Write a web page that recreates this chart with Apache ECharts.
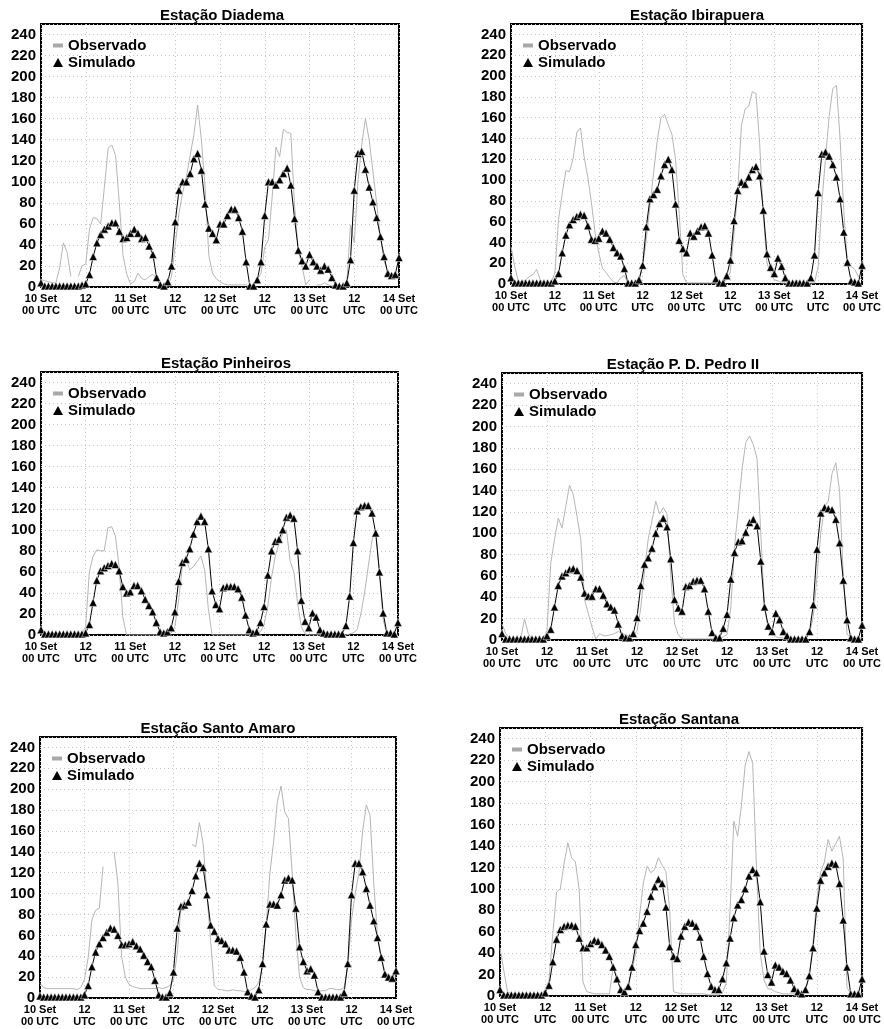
<!DOCTYPE html>
<html>
<head>
<meta charset="utf-8">
<title>Estações</title>
<script src="https://cdn.jsdelivr.net/npm/echarts@6.0.0/dist/echarts.min.js"></script>
<style>
  html, body { margin: 0; padding: 0; background: #fff; }
  #chart { width: 884px; height: 1029px; }
</style>
</head>
<body>
<div id="chart"></div>
<script>
// hourly values, 10 Set 00 UTC .. 14 Set 00 UTC (97 points each)
const stations = ['Estação Diadema', 'Estação Ibirapuera', 'Estação Pinheiros',
  'Estação P. D. Pedro II', 'Estação Santo Amaro', 'Estação Santana']

const xTickLabels = ['10 Set\n00 UTC', '12\nUTC', '11 Set\n00 UTC', '12\nUTC', '12 Set\n00 UTC',
  '12\nUTC', '13 Set\n00 UTC', '12\nUTC', '14 Set\n00 UTC']

const simDiadema = [
  4, 1, 1, 1, 1, 1, 1, 1, 1, 1, 1, 2,
  3, 12, 29, 42, 50, 55, 58, 61, 61, 53, 46, 47,
  51, 55, 51, 46, 47, 39, 31, 9, 2, 1, 5, 20,
  62, 92, 100, 100, 108, 122, 127, 111, 79, 56, 51, 45,
  60, 60, 68, 74, 74, 66, 53, 24, 1, 1, 7, 24,
  68, 100, 100, 97, 102, 108, 113, 97, 65, 35, 25, 20,
  31, 24, 20, 16, 20, 17, 9, 2, 1, 1, 4, 26,
  92, 127, 129, 112, 95, 81, 66, 48, 29, 13, 11, 12,
  28]
const obsDiadema = [
  7, 6, 5, 4, 4, 18, 42, 33, 10, null, 10, 20,
  22, 55, 66, 65, 60, 95, 132, 135, 125, 80, 30, 12,
  3, 5, 13, 8, 7, 10, 12, 8, 3, 1, 1, 10,
  40, 70, 90, 105, 125, 145, 173, 140, 95, 30, 13, 8,
  5, 3, 2, 2, 2, 2, 2, 2, 1, 1, 7, 13,
  38, 45, 86, 133, 124, 150, 147, 146, 77, 35, 20, 2,
  7, null, 2, 2, 4, 2, 1, 1, 1, 1, 4, 59,
  42, 100, 135, 160, 140, 110, 80, 48, 25, 14, 12, 11,
  13]

const simIbirapuera = [
  6, 1, 1, 1, 1, 1, 1, 1, 1, 1, 1, 1,
  3, 10, 30, 47, 57, 62, 65, 67, 66, 56, 43, 42,
  44, 51, 49, 43, 35, 30, 27, 15, 1, 1, 1, 4,
  18, 55, 82, 86, 91, 104, 115, 120, 110, 77, 42, 34,
  30, 49, 46, 51, 55, 56, 49, 28, 5, 1, 1, 8,
  23, 61, 90, 98, 96, 103, 110, 113, 104, 71, 29, 16,
  10, 25, 17, 6, 1, 1, 1, 1, 1, 1, 6, 28,
  88, 125, 127, 123, 115, 103, 82, 50, 21, 3, 2, 1,
  18]
const obsIbirapuera = [
  36, 17, 3, 2, 4, 7, 9, 14, 4, 1, 1, 1,
  11, 62, 87, 109, 108, 121, 146, 150, 122, 103, 78, 49,
  30, 15, 11, 6, 2, 1, 6, 8, 1, 1, 1, 3,
  17, 43, 75, 107, 138, 160, 163, 153, 144, 120, 68, 9,
  1, 1, 1, 1, 1, 1, 1, 1, 1, 1, 1, 4,
  12, 49, 89, 152, 168, 171, 185, 183, 135, 65, 20, 11,
  4, 3, 1, 1, 1, 1, 4, 2, 1, 1, 1, 1,
  17, 78, 120, 161, 188, 191, 139, 71, 20, 17, 14, 7,
  4]

const simPinheiros = [
  5, 1, 1, 1, 1, 1, 1, 1, 1, 1, 1, 1,
  2, 10, 31, 52, 61, 64, 66, 68, 67, 61, 46, 40,
  41, 47, 47, 42, 34, 28, 22, 12, 3, 2, 3, 7,
  22, 51, 69, 72, 82, 96, 108, 113, 108, 82, 42, 29,
  25, 45, 46, 46, 46, 44, 36, 19, 5, 2, 3, 12,
  27, 57, 80, 89, 91, 100, 112, 114, 111, 80, 33, 13,
  7, 21, 17, 5, 2, 1, 1, 1, 1, 1, 9, 37,
  88, 118, 122, 123, 123, 116, 97, 60, 21, 2, 2, 1,
  12]
const obsPinheiros = [
  1, 1, 1, 1, 1, 1, 1, 1, 1, 1, 1, 1,
  8, 60, 75, 81, 80, 80, 102, 103, 94, 65, 17, 0,
  0, 0, 0, 0, 0, 0, 0, 0, 0, 0, 0, 2,
  8, 33, 65, 72, 62, 65, 70, 75, 62, 25, 0, 0,
  0, 0, 0, 0, 0, 0, 0, 0, 0, 0, 1, 3,
  10, 28, 55, 75, 87, 96, 100, 70, 60, 30, 8, 1,
  0, 0, 0, 0, 0, 0, 0, 0, 0, 0, 0, 1,
  2, 5, 20, 40, 65, 90, 100, 60, 15, 0, 0, 0,
  0]

const simPedro = [
  6, 1, 1, 1, 1, 1, 1, 1, 1, 1, 1, 1,
  4, 10, 31, 51, 60, 63, 66, 67, 65, 59, 44, 41,
  41, 48, 48, 42, 34, 31, 28, 15, 4, 2, 2, 6,
  21, 51, 71, 77, 86, 100, 109, 114, 106, 76, 38, 30,
  27, 50, 51, 55, 56, 56, 48, 27, 7, 2, 2, 11,
  24, 57, 82, 92, 93, 101, 110, 113, 107, 74, 31, 13,
  8, 25, 19, 8, 4, 1, 1, 1, 1, 1, 8, 33,
  85, 119, 124, 123, 122, 113, 91, 56, 19, 2, 1, 1,
  14]
const obsPedro = [
  15, 6, 2, 1, 1, 1, 20, 6, 1, 1, 1, 1,
  9, 72, 94, 114, 105, 125, 145, 136, 116, 94, 38, 25,
  12, 1, 6, 4, 4, 5, 6, 8, 6, 5, 3, 5,
  8, 30, 65, 95, 112, 130, 118, 124, 118, 60, 15, 5,
  1, 1, 1, 1, 1, 1, 1, 1, 1, 1, 1, 3,
  5, 30, 88, 122, 160, 185, 191, 183, 170, 100, 30, 10,
  5, 3, 2, 2, 2, 2, 2, 2, 2, 2, 6, 22,
  60, 100, 125, 130, 156, 166, 140, 60, 5, 3, 2, 2,
  2]

const simSantoAmaro = [
  2, 1, 1, 1, 1, 1, 1, 1, 1, 1, 1, 1,
  3, 12, 30, 44, 52, 58, 63, 67, 66, 60, 51, 51,
  52, 54, 50, 47, 41, 35, 30, 17, 3, 1, 1, 5,
  25, 67, 88, 89, 92, 103, 117, 129, 125, 99, 70, 64,
  57, 55, 52, 46, 46, 45, 39, 25, 6, 2, 1, 8,
  33, 71, 90, 90, 89, 99, 113, 115, 113, 86, 49, 35,
  26, 28, 22, 6, 1, 1, 1, 1, 1, 1, 5, 33,
  99, 129, 129, 121, 105, 89, 74, 58, 39, 23, 20, 19,
  26]
const obsSantoAmaro = [
  14, 10, 9, 9, 9, 9, 9, 9, 9, 9, 8, 10,
  18, 39, 75, 84, 86, 126, null, null, 140, 110, 40, 20,
  13, 11, 10, 9, 9, 9, 9, 9, 10, 9, 10, 12,
  17, 42, 87, 94, null, 147, 145, 168, 148, 100, 55, 12,
  8, 8, 7, 7, 8, 7, 7, 6, 6, 8, 10, 15,
  30, 70, 120, 150, 188, 203, 178, 172, 120, 60, 20, 10,
  8, 8, 7, 6, 7, 7, 9, 9, 8, 8, 10, 30,
  75, 100, 120, 160, 185, 175, 110, 60, 40, 25, 22, 20,
  20]

const simSantana = [
  6, 1, 1, 1, 1, 1, 1, 1, 1, 1, 1, 1,
  3, 10, 32, 53, 62, 65, 66, 66, 65, 54, 45, 45,
  49, 52, 51, 48, 43, 37, 27, 16, 6, 4, 9, 27,
  48, 61, 68, 79, 93, 102, 109, 105, 83, 46, 37, 35,
  56, 65, 69, 68, 65, 55, 37, 21, 9, 6, 6, 16,
  31, 54, 73, 85, 90, 100, 112, 118, 115, 88, 42, 20,
  13, 29, 27, 23, 21, 15, 7, 4, 2, 6, 19, 45,
  82, 108, 115, 121, 124, 123, 105, 71, 27, 2, 2, 2,
  16]
const obsSantana = [
  45, 24, 4, 2, 2, 2, 2, 2, 2, 2, 2, 2,
  6, 15, 58, 97, 100, 124, 143, 129, 125, 99, 13, 4,
  3, 2, 2, 2, 2, 2, 27, 18, 6, 2, 9, 24,
  40, 75, 105, 121, 115, 118, 129, 122, 116, 80, 4, 3,
  2, 2, 2, 2, 2, 2, 2, 1, 1, 1, 1, 3,
  12, 80, 163, 149, 177, 215, 228, 217, 120, 40, 15, 7,
  6, 4, 3, 2, 2, 2, 2, 2, 2, 6, 18, 50,
  90, 115, 125, 146, 135, 142, 149, 128, 8, 2, 2, 2,
  2]

const simulado = [simDiadema, simIbirapuera, simPinheiros, simPedro, simSantoAmaro, simSantana]
const observado = [obsDiadema, obsIbirapuera, obsPinheiros, obsPedro, obsSantoAmaro, obsSantana]

// plot boxes (px) and title centres
const panels = [
  { left: 41, top: 24, width: 358, height: 263, titleX: 222 },
  { left: 511, top: 24, width: 354, height: 260, titleX: 697 },
  { left: 41, top: 372, width: 357, height: 263, titleX: 226 },
  { left: 502, top: 373, width: 363, height: 267, titleX: 683 },
  { left: 40, top: 737, width: 356, height: 261, titleX: 218 },
  { left: 500, top: 728, width: 365, height: 268, titleX: 679 }
]

const font = '"Liberation Sans", Arial, sans-serif'
const boldText = { fontFamily: font, fontWeight: 'bold', color: '#000' }
const gridLine = { show: true, lineStyle: { color: '#c4c4c4', type: [1, 3], width: 1 } }

const chart = echarts.init(document.getElementById('chart'))
const ctx = document.createElement('canvas').getContext('2d')
ctx.font = 'bold 15px "Liberation Sans"'

const option = {
  animation: false,
  backgroundColor: '#fff',
  title: [], legend: [], grid: [], xAxis: [], yAxis: [], series: []
}

panels.forEach((p, i) => {
  const tw = ctx.measureText(stations[i]).width
  option.title.push({
    text: stations[i],
    left: p.titleX - tw / 2,
    top: p.top - 16,
    padding: 0,
    textStyle: { ...boldText, fontSize: 15 }
  })
  option.legend.push({
    data: [{ name: 'Observado', icon: 'rect' }],
    left: p.left + 12, top: p.top + 22 - 8, padding: 0,
    itemWidth: 10, itemHeight: 4, selectedMode: false,
    itemStyle: { borderWidth: 0 },
    textStyle: { ...boldText, fontSize: 15 }
  }, {
    data: [{ name: 'Simulado', icon: 'triangle' }],
    left: p.left + 12, top: p.top + 39 - 8, padding: 0,
    itemWidth: 10, itemHeight: 9, selectedMode: false,
    itemStyle: { borderWidth: 0 },
    textStyle: { ...boldText, fontSize: 15 }
  })
  option.grid.push({
    left: p.left, top: p.top, width: p.width, height: p.height,
    show: true, borderColor: '#000', borderWidth: 2
  })
  option.xAxis.push({
    gridIndex: i, type: 'value', min: 0, max: 96, interval: 12,
    axisLine: { show: false }, axisTick: { show: false },
    axisLabel: {
      ...boldText, fontSize: 11, lineHeight: 12, margin: 6,
      formatter: v => xTickLabels[v / 12]
    },
    splitLine: gridLine
  })
  option.yAxis.push({
    gridIndex: i, type: 'value', min: 0, max: 250, interval: 20,
    axisLine: { show: false }, axisTick: { show: false },
    axisLabel: { ...boldText, fontSize: 15, margin: 5, showMaxLabel: false },
    splitLine: gridLine
  })
  option.series.push({
    name: 'Observado', type: 'line', xAxisIndex: i, yAxisIndex: i,
    data: observado[i].map((v, h) => [h, v === null ? '-' : v]),
    symbol: 'none', showSymbol: false,
    lineStyle: { color: '#b5b5b5', width: 1 },
    itemStyle: { color: '#a8a8a8' },
    z: 2
  }, {
    name: 'Simulado', type: 'line', xAxisIndex: i, yAxisIndex: i,
    data: simulado[i].map((v, h) => [h, v]),
    symbol: 'triangle', symbolSize: 8,
    lineStyle: { color: '#000', width: 1 },
    itemStyle: { color: '#000', borderColor: '#fff', borderWidth: 0.5 },
    z: 3
  })
})

chart.setOption(option)
</script>
</body>
</html>
